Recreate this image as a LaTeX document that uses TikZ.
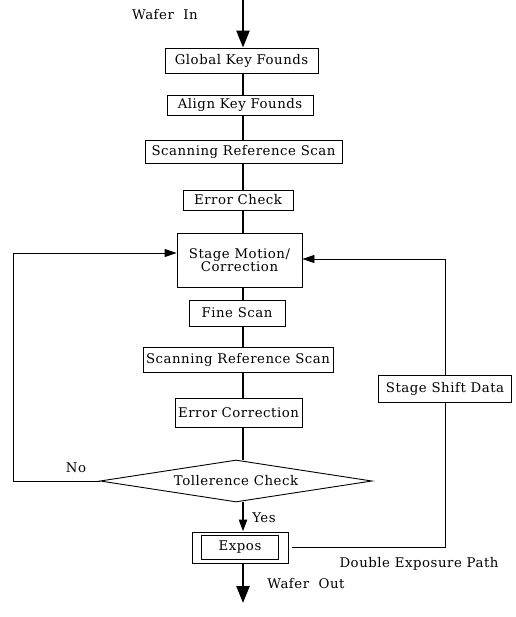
\documentclass[tikz,border=0pt]{standalone}
\usepackage{fontspec}
\setmainfont{DejaVu Serif}[LetterSpace=4]
\usetikzlibrary{arrows.meta,shapes.geometric,calc}
\begin{document}
\begin{tikzpicture}[x=1pt,y=-1pt,
  every node/.style={font=\fontsize{13.3}{13}\selectfont, inner sep=0pt},
  box/.style={draw, line width=0.9pt, rectangle},
  flow/.style={line width=2.4pt},
  thin/.style={line width=0.9pt},
  bigtip/.style={-{Triangle[width=13pt,length=17pt]}},
  smalltip/.style={-{Triangle[width=8pt,length=12pt]}},
  lbl/.style={}
]
\useasboundingbox (0,0) rectangle (515,617);
\coordinate (spine) at (243,0);
\coordinate (top) at (243,0);
\coordinate (bottom) at (243,603);

\node[box, minimum width=153, minimum height=25] (gk) at (241.5,60.5) {Global Key Founds};
\node[box, minimum width=146, minimum height=20] (ak) at (240,105) {Align Key Founds};
\node[box, minimum width=197, minimum height=23] (s1) at (243.5,151.5) {Scanning Reference Scan};
\node[box, minimum width=110, minimum height=20] (ec) at (238,200) {Error Check};
\node[box, minimum width=125, minimum height=54, align=center] (sm) at (239.5,260) {Stage Motion/\\Correction};
\node[box, minimum width=96, minimum height=26] (fs) at (237,313) {Fine Scan};
\node[box, minimum width=190, minimum height=25] (s2) at (238,359.5) {Scanning Reference Scan};
\node[box, minimum width=127, minimum height=29] (er) at (238.5,412.5) {Error Correction};
\node[draw, thin, diamond, aspect=6.5, minimum width=272, minimum height=42] (tc) at (236,481) {Tollerence Check};
\node[box, minimum width=96, minimum height=31] (ex) at (240,547.5) {};
\node[box, minimum width=77, minimum height=24] (exi) at (ex.center) {Expos};
\node[box, fill=white, minimum width=133, minimum height=27] (sd) at (445,388.5) {Stage Shift Data};

\node[lbl] (win) at (165,15) {Wafer\ \ In};
\node[lbl] (no) at (76,468) {No};
\node[lbl] (yes) at (264,518) {Yes};
\node[lbl] (dep) at (419,564) {Double Exposure Path};
\node[lbl] (wout) at (306,584) {Wafer\ \ Out};

% main flow
\draw[flow, bigtip] (top) -- (gk.north -| spine);
\draw[flow] (gk.south -| spine) -- (ak.north -| spine);
\draw[flow] (ak.south -| spine) -- (s1.north -| spine);
\draw[flow] (s1.south -| spine) -- (ec.north -| spine);
\draw[flow] (ec.south -| spine) -- (sm.north -| spine);
\draw[flow] (sm.south -| spine) -- (fs.north -| spine);
\draw[flow] (fs.south -| spine) -- (s2.north -| spine);
\draw[flow] (s2.south -| spine) -- (er.north -| spine);
\draw[flow] (er.south -| spine) -- (tc.north -| spine);
\draw[flow, smalltip] (tc.south -| spine) -- (ex.north -| spine);
\draw[flow, bigtip] (ex.south -| spine) -- (bottom);

% loops
\draw[thin, smalltip] (tc.west) -- ++(-86,0) |- ([yshift=7pt]sm.west);
\draw[thin] ([xshift=4pt]ex.east) -| (sd.south);
\draw[thin, smalltip] (sd.north) |- ([yshift=1pt]sm.east);
\end{tikzpicture}
\end{document}
